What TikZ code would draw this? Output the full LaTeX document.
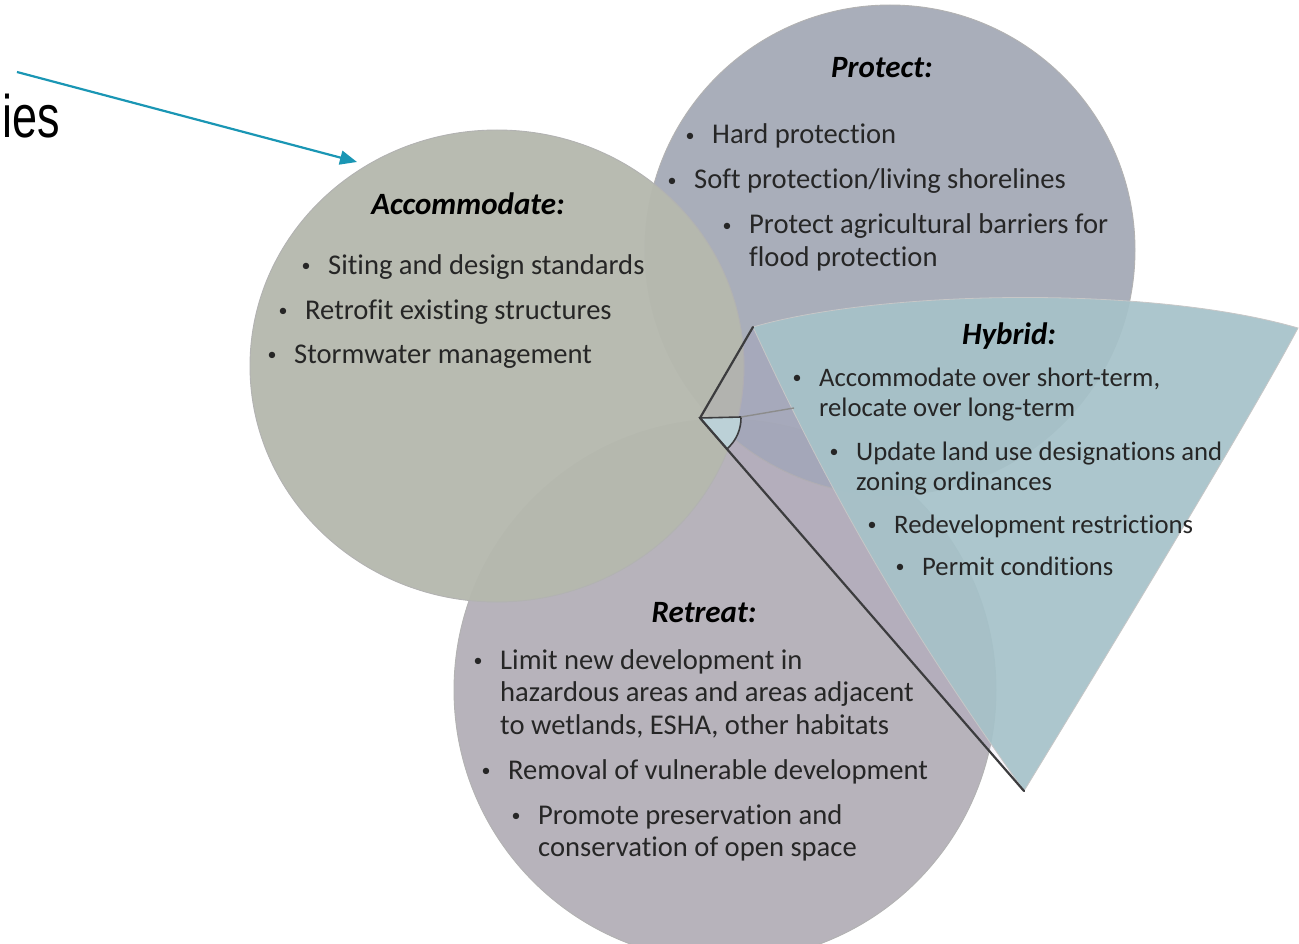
\documentclass[tikz,border=0pt]{standalone}
\usepackage{fontspec}
\setmainfont{Carlito}[Ligatures=NoCommon]
\newfontfamily\stratfont{Liberation Sans}
\usetikzlibrary{arrows.meta}

\definecolor{protectgray}{RGB}{166,171,184}
\definecolor{accomgray}{RGB}{182,185,174}
\definecolor{retreatgray}{RGB}{181,177,185}
\definecolor{hybridblue}{RGB}{166,194,201}
\definecolor{hybridtint}{RGB}{150,120,200}
\definecolor{arrowteal}{RGB}{26,150,180}
\definecolor{edgegray}{RGB}{60,60,62}

\newcommand{\bitem}[1]{\makebox[10pt]{\raisebox{2.6pt}{\fontsize{18}{18}\selectfont\textbullet}}\hspace{17pt}\begin{tabular}[t]{@{}l@{}}#1\end{tabular}}

\begin{document}
\begin{tikzpicture}[x=1pt, y=-1pt]
\tikzset{every node/.style={inner sep=0pt, text=black!85}}
\tikzset{title/.style={font=\fontsize{31}{36}\selectfont\bfseries\itshape, anchor=base, text=black}}
\tikzset{item/.style={font=\fontsize{28.6}{32.5}\selectfont, anchor=base west}}
\tikzset{smallitem/.style={item, font=\fontsize{26.7}{30.5}\selectfont}}
\tikzset{zone/.style={draw=black!30, line width=0.9pt, fill opacity=0.97}}
\tikzset{wedgeline/.style={draw=edgegray, line width=2.2pt, line join=round, line cap=round}}
\useasboundingbox (0,0) rectangle (1299,944);

% the four strategies
\filldraw[zone, fill=retreatgray] (725,690) circle[radius=271];
\filldraw[zone, fill=protectgray] (890,250) circle[radius=245];
\filldraw[zone, fill=accomgray] (497,366) ellipse[x radius=247, y radius=236];

% hybrid wedge
\coordinate (A) at (700,418);
\coordinate (B) at (753,327);
\coordinate (C) at (1298,328);
\coordinate (D) at (1024,791);
\coordinate (a1) at (741,417);
\coordinate (a2) at (794,408);
\fill[hybridtint, fill opacity=0.07] (A) -- (B) .. controls (860,560) and (960,700) .. (D) -- cycle;
\filldraw[fill=hybridblue, fill opacity=0.93, draw=black!22, line width=0.8pt]
  (B) .. controls (880,290) and (1150,285) .. (C)
  .. controls (1255,410) and (1110,650) .. (D)
  .. controls (960,700) and (860,560) .. (B) -- cycle;
\filldraw[fill=hybridblue!75!white, draw=edgegray, line width=1.6pt]
  (A) -- (a1) arc[start angle=-1.4, end angle=48.9, radius=41] -- cycle;
\draw[draw=black!45, line width=1.4pt] (a1) -- (a2);
\draw[wedgeline] (B) -- (A) -- (D);

% protect
\node[title] (prT) at (882,78) {Protect:};
\node[item] (pr1) at (685,144) {\bitem{Hard protection}};
\node[item] (pr2) at (667,189) {\bitem{Soft protection/living shorelines}};
\node[item] (pr3) at (722,234) {\bitem{Protect agricultural barriers for\\flood protection}};

% accommodate
\node[title] (acT) at (468,215) {Accommodate:};
\node[item] (ac1) at (301,274) {\bitem{Siting and design standards}};
\node[item] (ac2) at (278,319) {\bitem{Retrofit existing structures}};
\node[item] (ac3) at (267,363) {\bitem{Stormwater management}};

% hybrid
\node[title] (hyT) at (1009,344) {Hybrid:};
\node[smallitem] (hy1) at (792,386) {\bitem{Accommodate over short-term,\\relocate over long-term}};
\node[smallitem] (hy2) at (829,460) {\bitem{Update land use designations and\\zoning ordinances}};
\node[smallitem] (hy3) at (867,533) {\bitem{Redevelopment restrictions}};
\node[smallitem] (hy4) at (895,575) {\bitem{Permit conditions}};

% retreat
\node[title] (reT) at (704,622) {Retreat:};
\node[item] (re1) at (473,669) {\bitem{Limit new development in\\hazardous areas and areas adjacent\\to wetlands, ESHA, other habitats}};
\node[item] (re2) at (481,779) {\bitem{Removal of vulnerable development}};
\node[item] (re3) at (511,824) {\bitem{Promote preservation and\\conservation of open space}};

% pointer from the cut-off heading
\node[font=\stratfont\fontsize{60}{60}\selectfont, anchor=base east, text=black] (strat) at (60,138) {\scalebox{0.75}[1]{ies}};
\coordinate (ptail) at (17,72);
\coordinate (phead) at (357,162);
\draw[-{Triangle[length=17pt, width=14pt]}, draw=arrowteal, fill=arrowteal, line width=2.2pt] (ptail) -- (phead);
\end{tikzpicture}
\end{document}
